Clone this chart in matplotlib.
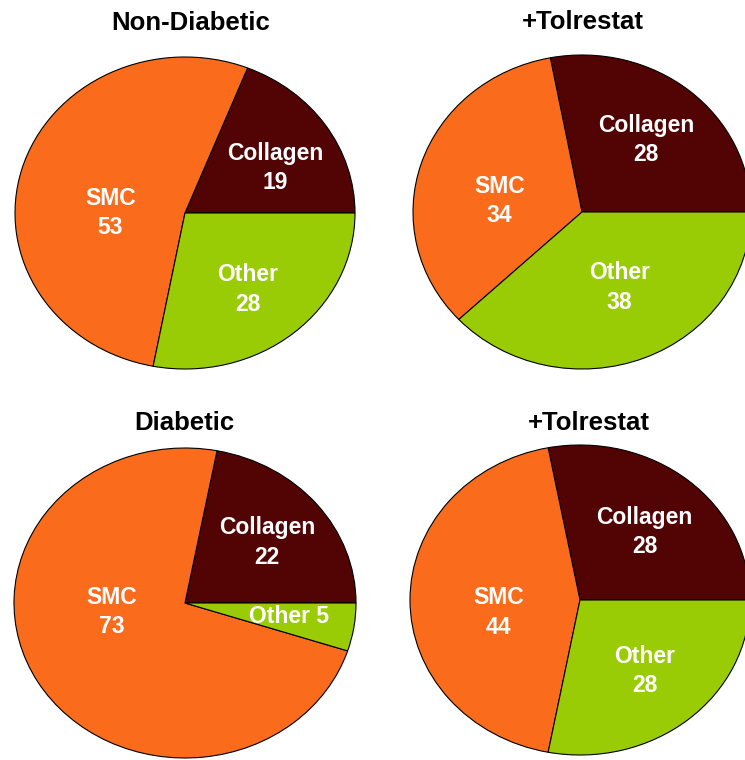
import matplotlib.pyplot as plt

# Data (percent of lesion area)
categories = ['Collagen', 'SMC', 'Other']
titles = ['Non-Diabetic', '+Tolrestat', 'Diabetic', '+Tolrestat']
collagen = [19, 28, 22, 28]
smc = [53, 34, 73, 44]
other = [28, 38, 5, 28]

colors = ['#520303', '#FB6B1C', '#99CC05']

plt.rcParams['font.family'] = ['Liberation Sans', 'DejaVu Sans']

W, H = 745, 760
fig = plt.figure(figsize=(W / 100, H / 100), dpi=100)

# pie layout in pixels: centre x, centre y, x radius, y radius
pies = [(185, 213, 170, 156), (582, 212, 169, 157),
        (185, 603, 171, 155), (580, 600, 170, 155)]
title_pos = [(191, 23), (583, 22), (184, 423), (589, 423)]

# label positions inside each pie (normalised ellipse coords)
label_pos = [
    [(0.53, 0.29), (-0.44, 0.0), (0.37, -0.49)],
    [(0.38, 0.46), (-0.49, 0.07), (0.22, -0.48)],
    [(0.48, 0.39), (-0.43, -0.06), (0.61, -0.09)],
    [(0.38, 0.44), (-0.48, -0.08), (0.38, -0.46)],
]

for i in range(4):
    cx, cy, rx, ry = pies[i]
    ax = fig.add_axes([(cx - rx) / W, (H - cy - ry) / H, 2 * rx / W, 2 * ry / H])
    vals = [collagen[i], smc[i], other[i]]
    ax.pie(vals, colors=colors, startangle=0, counterclock=True,
           wedgeprops=dict(edgecolor='black', linewidth=0.8))
    ax.set_aspect('auto')
    ax.set_xlim(-1, 1)
    ax.set_ylim(-1, 1)
    for j, cat in enumerate(categories):
        if vals[j] < 10:
            txt = f'{cat} {vals[j]}'
        else:
            txt = f'{cat}\n{vals[j]}'
        x, y = label_pos[i][j]
        ax.text(x, y, txt, color='white', fontsize=16.5, fontweight='bold',
                ha='center', va='center', linespacing=1.35)
    tx, ty = title_pos[i]
    fig.text(tx / W, 1 - ty / H, titles[i], fontsize=18.5, fontweight='bold',
             ha='center', va='center')

plt.savefig('out.png', dpi=100, facecolor='white')
plt.close()
